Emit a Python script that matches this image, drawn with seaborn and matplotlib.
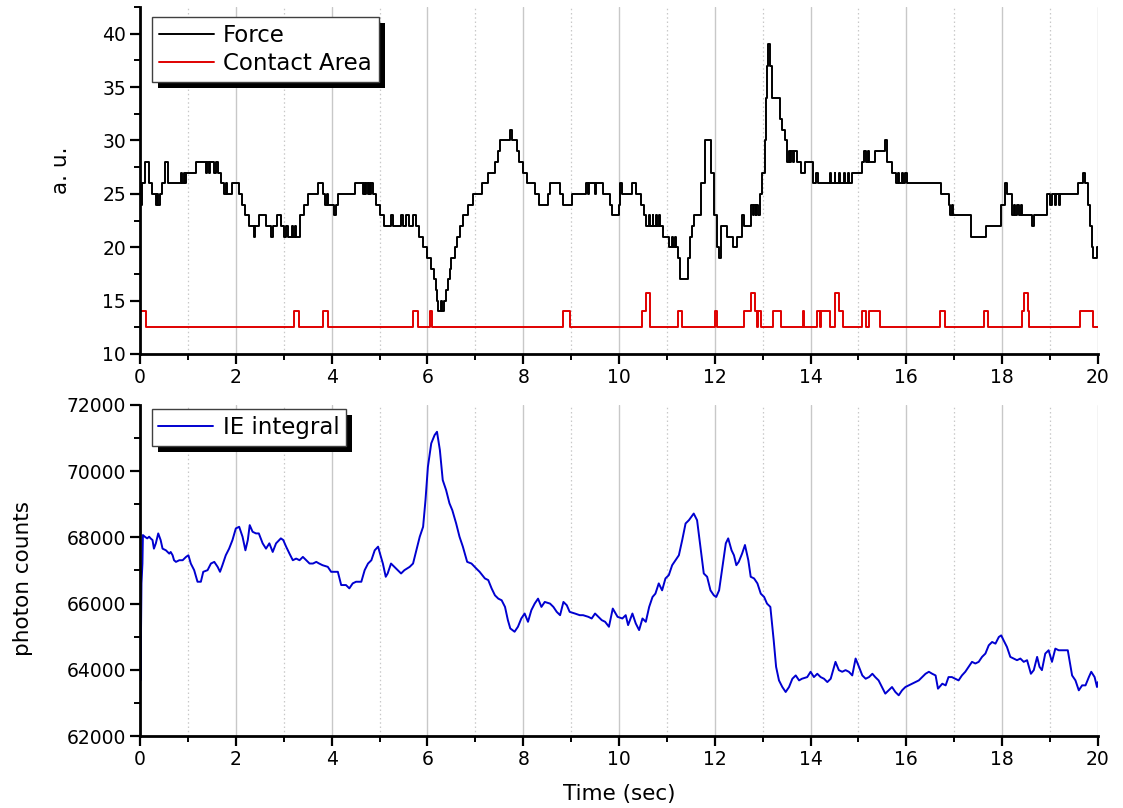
import numpy as np
import pandas as pd
import matplotlib
matplotlib.use("Agg")
import matplotlib.pyplot as plt
import seaborn as sns
from matplotlib.patches import Rectangle
from matplotlib.transforms import IdentityTransform
from matplotlib.ticker import MultipleLocator

# ---------------- data ----------------
force_t = [0.00, 0.05, 0.10, 0.18, 0.24, 0.33, 0.36, 0.38, 0.42, 0.46, 0.52, 0.58, 0.85, 0.88, 0.91,
           0.93, 0.96, 1.17, 1.38, 1.40, 1.45, 1.47, 1.55, 1.58, 1.62, 1.69, 1.76, 1.80, 1.82, 1.93,
           2.06, 2.12, 2.20, 2.27, 2.38, 2.40, 2.48, 2.63, 2.73, 2.77, 2.87, 2.94, 3.01, 3.05, 3.08,
           3.18, 3.20, 3.24, 3.26, 3.33, 3.43, 3.50, 3.72, 3.82, 3.86, 3.90, 3.93, 4.06, 4.09, 4.13,
           4.48, 4.65, 4.67, 4.70, 4.72, 4.75, 4.77, 4.80, 4.83, 4.86, 4.93, 5.00, 5.10, 5.24, 5.28,
           5.45, 5.50, 5.55, 5.62, 5.70, 5.76, 5.83, 5.91, 6.00, 6.08, 6.13, 6.17, 6.19, 6.22, 6.28,
           6.30, 6.35, 6.38, 6.43, 6.47, 6.50, 6.57, 6.62, 6.67, 6.74, 6.85, 6.95, 7.13, 7.27, 7.41,
           7.48, 7.51, 7.72, 7.76, 7.88, 7.92, 7.99, 8.07, 8.25, 8.33, 8.52, 8.56, 8.76, 8.84, 9.01,
           9.32, 9.36, 9.38, 9.50, 9.53, 9.67, 9.81, 9.85, 9.99, 10.02, 10.06, 10.28, 10.35, 10.45,
           10.52, 10.56, 10.62, 10.64, 10.70, 10.72, 10.78, 10.80, 10.84, 10.86, 10.91, 11.04, 11.10,
           11.12, 11.16, 11.18, 11.24, 11.28, 11.45, 11.49, 11.52, 11.56, 11.72, 11.80, 11.92, 11.98,
           12.04, 12.09, 12.14, 12.26, 12.37, 12.47, 12.56, 12.62, 12.76, 12.80, 12.82, 12.85, 12.87,
           12.90, 12.94, 12.99, 13.04, 13.07, 13.10, 13.12, 13.16, 13.20, 13.36, 13.41, 13.47, 13.51, 13.55,
           13.58, 13.60, 13.63, 13.66, 13.71, 13.80, 13.89, 14.05, 14.12, 14.16, 14.40, 14.42, 14.50,
           14.52, 14.60, 14.62, 14.70, 14.72, 14.78, 14.80, 14.87, 15.08, 15.12, 15.15, 15.20, 15.23,
           15.35, 15.55, 15.60, 15.70, 15.78, 15.82, 15.85, 15.90, 15.93, 15.98, 16.02, 16.72, 16.88,
           16.92, 16.95, 16.98, 17.02, 17.35, 17.66, 17.97, 18.05, 18.10, 18.20, 18.25, 18.27, 18.32,
           18.35, 18.40, 18.42, 18.63, 18.66, 18.94, 19.00, 19.04, 19.10, 19.12, 19.18, 19.20, 19.58,
           19.68, 19.72, 19.79, 19.84, 19.87, 19.90, 19.98, 20.00]
force_v = [24, 26, 28, 26, 25, 24, 25, 24, 25, 26, 28, 26, 27, 26, 27,
           26, 27, 28, 27, 28, 27, 28, 27, 28, 27, 26, 25, 26, 25, 26,
           25, 24, 23, 22, 21, 22, 23, 22, 21, 22, 23, 22, 21, 22, 21,
           22, 21, 22, 21, 23, 24, 25, 26, 25, 24, 25, 24, 23, 24, 25,
           26, 25, 26, 25, 26, 25, 26, 25, 26, 25, 24, 23, 22, 23, 22,
           23, 22, 23, 22, 23, 22, 21, 20, 19, 18, 17, 16, 15, 14, 15,
           14, 15, 16, 17, 18, 19, 20, 21, 22, 23, 24, 25, 26, 27, 28,
           29, 30, 31, 30, 29, 28, 27, 26, 25, 24, 25, 26, 25, 24, 25,
           26, 25, 26, 25, 26, 25, 24, 23, 24, 26, 25, 26, 25, 24,
           23, 22, 23, 22, 23, 22, 23, 22, 23, 22, 21, 20, 21,
           20, 21, 20, 19, 17, 19, 21, 22, 23, 26, 30, 27, 23,
           20, 19, 22, 21, 20, 21, 23, 22, 24, 23, 24, 23, 24,
           23, 25, 27, 30, 34, 37, 39, 37, 34, 32, 31, 30, 28, 29,
           28, 29, 28, 29, 28, 27, 28, 26, 27, 26, 27, 26, 27,
           26, 27, 26, 27, 26, 27, 26, 27, 28, 29, 28, 29, 28,
           29, 30, 28, 27, 26, 27, 26, 27, 26, 27, 26, 25, 24,
           23, 24, 23, 23, 21, 22, 24, 26, 25, 23, 24, 23, 24,
           23, 24, 23, 22, 23, 25, 24, 25, 24, 25, 24, 25, 26,
           27, 26, 24, 22, 20, 19, 20, 20]

contact_t = [0.00, 0.12, 3.21, 3.31, 3.81, 3.93, 5.70, 5.81, 6.05, 6.09, 8.84, 8.97, 10.49, 10.57,
             10.64, 11.24, 11.31, 12.00, 12.05, 12.62, 12.76, 12.83, 12.88, 12.90, 12.97, 13.21,
             13.38, 13.84, 13.87, 14.13, 14.20, 14.22, 14.40, 14.50, 14.59, 14.68, 15.08, 15.16,
             15.23, 15.44, 16.70, 16.80, 17.62, 17.71, 18.42, 18.45, 18.54, 18.57, 19.63, 19.90, 20.00]
contact_v = [14, 12.5, 14, 12.5, 14, 12.5, 14, 12.5, 14, 12.5, 14, 12.5, 14, 15.7,
             12.5, 14, 12.5, 14, 12.5, 14, 15.7, 14, 12.5, 14, 12.5, 14,
             12.5, 14, 12.5, 14, 12.5, 14, 12.5, 15.7, 14, 12.5, 14, 12.5,
             14, 12.5, 14, 12.5, 14, 12.5, 14, 15.7, 14, 12.5, 14, 12.5, 12.5]

ie_t = [0.00, 0.01, 0.03, 0.05, 0.06, 0.10, 0.15, 0.19, 0.22, 0.26, 0.29, 0.33, 0.38, 0.43, 0.47,
        0.54, 0.61, 0.64, 0.68, 0.71, 0.75, 0.82, 0.89, 0.96, 1.01, 1.06, 1.13, 1.20, 1.27, 1.32,
        1.41, 1.48, 1.55, 1.62, 1.67, 1.72, 1.79, 1.86, 1.93, 2.00, 2.07, 2.14, 2.20, 2.25, 2.29,
        2.35, 2.42, 2.48, 2.56, 2.63, 2.70, 2.77, 2.84, 2.94, 2.99, 3.05, 3.12, 3.19, 3.26, 3.33,
        3.40, 3.47, 3.54, 3.61, 3.68, 3.74, 3.81, 3.92, 3.99, 4.06, 4.13, 4.20, 4.30, 4.37, 4.44,
        4.51, 4.62, 4.69, 4.76, 4.83, 4.90, 4.97, 5.01, 5.07, 5.13, 5.17, 5.24, 5.31, 5.38, 5.45,
        5.52, 5.63, 5.70, 5.77, 5.84, 5.91, 5.96, 6.01, 6.08, 6.15, 6.20, 6.26, 6.32, 6.39, 6.46,
        6.52, 6.60, 6.67, 6.74, 6.83, 6.92, 7.02, 7.09, 7.20, 7.27, 7.34, 7.41, 7.48, 7.55, 7.62,
        7.68, 7.73, 7.82, 7.89, 7.96, 8.03, 8.10, 8.17, 8.24, 8.31, 8.38, 8.45, 8.56, 8.63, 8.70,
        8.77, 8.84, 8.91, 8.97, 9.08, 9.18, 9.25, 9.36, 9.43, 9.50, 9.57, 9.64, 9.71, 9.79, 9.87,
        9.97, 10.07, 10.14, 10.19, 10.28, 10.35, 10.42, 10.49, 10.56, 10.63, 10.70, 10.76, 10.83,
        10.90, 10.97, 11.04, 11.11, 11.18, 11.25, 11.32, 11.39, 11.46, 11.56, 11.63, 11.70, 11.77,
        11.84, 11.91, 11.98, 12.03, 12.09, 12.16, 12.23, 12.28, 12.35, 12.40, 12.45, 12.50, 12.57,
        12.63, 12.70, 12.75, 12.82, 12.89, 12.96, 13.03, 13.09, 13.16, 13.23, 13.28, 13.34, 13.41,
        13.48, 13.55, 13.62, 13.69, 13.76, 13.82, 13.93, 14.00, 14.07, 14.14, 14.21, 14.28, 14.35,
        14.42, 14.49, 14.52, 14.59, 14.66, 14.73, 14.80, 14.87, 14.94, 15.01, 15.08, 15.15, 15.22,
        15.29, 15.35, 15.42, 15.49, 15.56, 15.63, 15.70, 15.77, 15.84, 15.91, 15.98, 16.05, 16.12,
        16.19, 16.26, 16.33, 16.40, 16.47, 16.54, 16.61, 16.66, 16.75, 16.82, 16.88, 16.95, 17.02,
        17.09, 17.16, 17.23, 17.30, 17.37, 17.44, 17.51, 17.58, 17.65, 17.72, 17.79, 17.86, 17.93,
        17.98, 18.03, 18.10, 18.17, 18.24, 18.31, 18.38, 18.45, 18.52, 18.60, 18.66, 18.73, 18.78,
        18.83, 18.90, 18.97, 19.04, 19.11, 19.18, 19.28, 19.37, 19.46, 19.53, 19.60, 19.67, 19.74,
        19.81, 19.86, 19.93, 19.98, 20.00]
ie_v = [66600, 63680, 66610, 67210, 68070, 68020, 67970, 68020, 67970, 67920, 67660, 67820, 68120, 67920, 67660,
        67610, 67510, 67560, 67460, 67310, 67260, 67310, 67310, 67410, 67460, 67210, 67010, 66660, 66660, 66960,
        67010, 67210, 67260, 67110, 66960, 67160, 67460, 67660, 67920, 68270, 68320, 68020, 67610, 67920, 68370,
        68170, 68120, 68120, 67820, 67660, 67820, 67560, 67820, 67970, 67920, 67720, 67510, 67310, 67360, 67310,
        67410, 67310, 67210, 67210, 67260, 67210, 67160, 67110, 66960, 66960, 66960, 66560, 66560, 66460, 66610,
        66660, 66660, 67010, 67210, 67310, 67610, 67720, 67510, 67210, 66810, 66910, 67210, 67110, 67010, 66910,
        67010, 67110, 67210, 67610, 68020, 68320, 69130, 70130, 70840, 71090, 71190, 70640, 69730, 69430, 69030,
        68820, 68420, 68020, 67720, 67260, 67210, 67060, 66960, 66760, 66710, 66460, 66250, 66150, 66100, 65900,
        65500, 65250, 65150, 65300, 65550, 65700, 65450, 65800, 66000, 66150, 65900, 66050, 66000, 65900, 65750,
        65650, 66050, 65950, 65750, 65700, 65650, 65650, 65600, 65550, 65700, 65600, 65500, 65450, 65300, 65850,
        65600, 65550, 65650, 65350, 65700, 65400, 65200, 65550, 65450, 65900, 66200, 66300, 66610,
        66400, 66760, 66860, 67160, 67310, 67460, 67920, 68420, 68520, 68720, 68520, 67720, 66910,
        66810, 66400, 66250, 66200, 66400, 67110, 67820, 67970, 67610, 67460, 67160, 67260, 67510,
        67770, 67310, 66810, 66760, 66610, 66300, 66200, 66000, 65900, 64890, 64090, 63680, 63480,
        63330, 63480, 63730, 63830, 63680, 63730, 63780, 63940, 63780, 63880, 63780, 63730, 63630,
        63730, 64090, 64240, 63990, 63940, 63990, 63940, 63830, 64340, 64090, 63830, 63730, 63780,
        63880, 63780, 63680, 63480, 63280, 63380, 63480, 63330, 63230, 63380, 63480, 63530, 63580,
        63630, 63680, 63780, 63880, 63940, 63880, 63830, 63430, 63580, 63530, 63780, 63780, 63730,
        63680, 63830, 63940, 64090, 64240, 64190, 64240, 64390, 64490, 64740, 64840, 64790, 64990,
        65040, 64890, 64690, 64390, 64340, 64290, 64340, 64240, 64290, 63880, 63990, 64390, 64090,
        63990, 64490, 64590, 64240, 64640, 64590, 64590, 64590, 63830, 63680, 63380, 63530, 63530,
        63780, 63940, 63780, 63480, 63630]

x_label = "Time (sec)"
top_ylabel = "a. u."
bottom_ylabel = "photon counts"

# ---------------- style ----------------
sns.set_theme(style="white")
plt.rcParams["font.family"] = ["DejaVu Sans"]
plt.rcParams["axes.edgecolor"] = "black"
plt.rcParams["text.color"] = "black"
plt.rcParams["axes.labelcolor"] = "black"
plt.rcParams["xtick.color"] = "black"
plt.rcParams["ytick.color"] = "black"

fig = plt.figure(figsize=(11.23, 8.08), dpi=100)
ax1 = fig.add_axes([0.1247, 0.5619, 0.8530, 0.4294])
ax2 = fig.add_axes([0.1247, 0.0891, 0.8530, 0.4097])

df_force = pd.DataFrame({"t": force_t, "v": force_v})
df_contact = pd.DataFrame({"t": contact_t, "v": contact_v})
df_ie = pd.DataFrame({"t": ie_t, "v": ie_v})

sns.lineplot(data=df_force, x="t", y="v", ax=ax1, color="black", lw=1.4,
             drawstyle="steps-post", estimator=None, sort=False, label="Force")
sns.lineplot(data=df_contact, x="t", y="v", ax=ax1, color="#e00000", lw=1.4,
             drawstyle="steps-post", estimator=None, sort=False, label="Contact Area")
sns.lineplot(data=df_ie, x="t", y="v", ax=ax2, color="#0000d0", lw=1.4,
             estimator=None, sort=False, label="IE integral")

ax1.set_ylim(10, 42.5)
ax2.set_ylim(62000, 72000)
for ax in (ax1, ax2):
    ax.set_xlim(0, 20)
    ax.xaxis.set_major_locator(MultipleLocator(2))
    ax.xaxis.set_minor_locator(MultipleLocator(1))
    for s in ("top", "right"):
        ax.spines[s].set_visible(False)
    for s in ("left", "bottom"):
        ax.spines[s].set_linewidth(2.0)
        ax.spines[s].set_color("black")
    ax.tick_params(which="major", direction="out", length=7, width=1.6, labelsize=13.5,
                   colors="black", left=True, bottom=True, pad=3)
    ax.tick_params(which="minor", direction="out", length=4, width=1.4, left=True, bottom=True)
    ax.grid(False)
    ax.grid(True, axis="x", which="major", color="#c8c8c8", lw=1.0, ls="-")
    ax.grid(True, axis="x", which="minor", color="#c8c8c8", lw=0.9, ls=(0, (1.2, 2.2)))
    ax.set_axisbelow(True)

ax1.yaxis.set_major_locator(MultipleLocator(5))
ax1.yaxis.set_minor_locator(MultipleLocator(2.5))
ax2.yaxis.set_major_locator(MultipleLocator(2000))
ax2.yaxis.set_minor_locator(MultipleLocator(1000))

ax1.set_xlabel("")
ax2.set_xlabel(x_label, fontsize=15.5, labelpad=11)
ax1.set_ylabel(top_ylabel, fontsize=15.5)
ax2.set_ylabel(bottom_ylabel, fontsize=15.5)
ax1.yaxis.set_label_coords(-0.072, 0.53)
ax2.yaxis.set_label_coords(-0.112, 0.477)

legs = []
for ax, anchor in ((ax1, (0.0125, 0.972)), (ax2, (0.012, 0.988))):
    leg = ax.legend(loc="upper left", bbox_to_anchor=anchor, borderaxespad=0, fontsize=16.5,
                    frameon=True, fancybox=False, framealpha=1, edgecolor="#404040",
                    handlelength=2.4, handletextpad=0.4, borderpad=0.3, labelspacing=0.25)
    leg.get_frame().set_linewidth(1.0)
    legs.append((ax, leg))

fig.canvas.draw()
renderer = fig.canvas.get_renderer()
for ax, leg in legs:
    bb = leg.get_frame().get_window_extent(renderer)
    shadow = Rectangle((bb.x0 + 6, bb.y0 - 6), bb.width, bb.height, transform=IdentityTransform(),
                       facecolor="black", edgecolor="none", zorder=leg.get_zorder() - 0.1,
                       clip_on=False)
    ax.add_artist(shadow)

fig.savefig("out.png", dpi=100)
